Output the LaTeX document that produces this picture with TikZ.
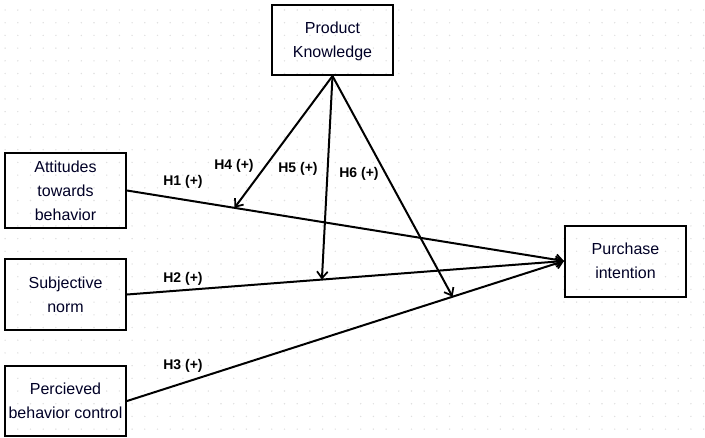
\documentclass[tikz,border=0pt]{standalone}
\usepackage{fontspec}
\setmainfont{Liberation Sans}
\usetikzlibrary{arrows.meta}

\begin{document}
\begin{tikzpicture}[x=0.75pt,y=-0.75pt,
  box/.style={draw,line width=1.5pt,minimum width=90.75pt,align=center,font=\fontsize{12}{18}\selectfont,text=black!85!blue,inner sep=0pt},
  hyp/.style={font=\fontsize{10.5}{12}\selectfont\bfseries},
  link/.style={line width=1.5pt,-{Straight Barb[length=5pt,width=8pt,line width=1.3pt]}}]
\useasboundingbox (0,0) rectangle (705,437);
\foreach \i in {0,...,55}
  \foreach \j in {0,...,33}
    \fill[black!12] (5.1+12.7*\i,10+12.7*\j) circle (0.6pt);
\node[box,minimum height=52.5pt,text depth=0pt] (pk) at (332.5,40) {Product\\Knowledge};
\node[box,minimum height=56.25pt] (att) at (65.5,190.5) {Attitudes\\towards\\behavior};
\node[box,minimum height=53.25pt] (sub) at (65.5,294.5) {Subjective\\norm};
\node[box,minimum height=52.5pt] (pbc) at (65.5,401) {Percieved\\behavior control};
\node[box,minimum height=53.25pt] (pi) at (625.5,261) {Purchase\\intention};
\draw[link] (att.east) -- (pi.west) coordinate[pos=0.246] (m1);
\draw[link] (sub.east) -- (pi.west) coordinate[pos=0.446] (m2);
\draw[link] (pbc.east) -- (pi.west) coordinate[pos=0.745] (m3);
\draw[link] (pk.south) -- (m1);
\draw[link] (pk.south) -- (m2);
\draw[link] (pk.south) -- (m3);
\node[hyp] (h1) at (183,182) {H1 (+)};
\node[hyp] (h2) at (183,279) {H2 (+)};
\node[hyp] (h3) at (183,366) {H3 (+)};
\node[hyp] (h4) at (234,166) {H4 (+)};
\node[hyp] (h5) at (298,169) {H5 (+)};
\node[hyp] (h6) at (359,174) {H6 (+)};
\end{tikzpicture}
\end{document}
